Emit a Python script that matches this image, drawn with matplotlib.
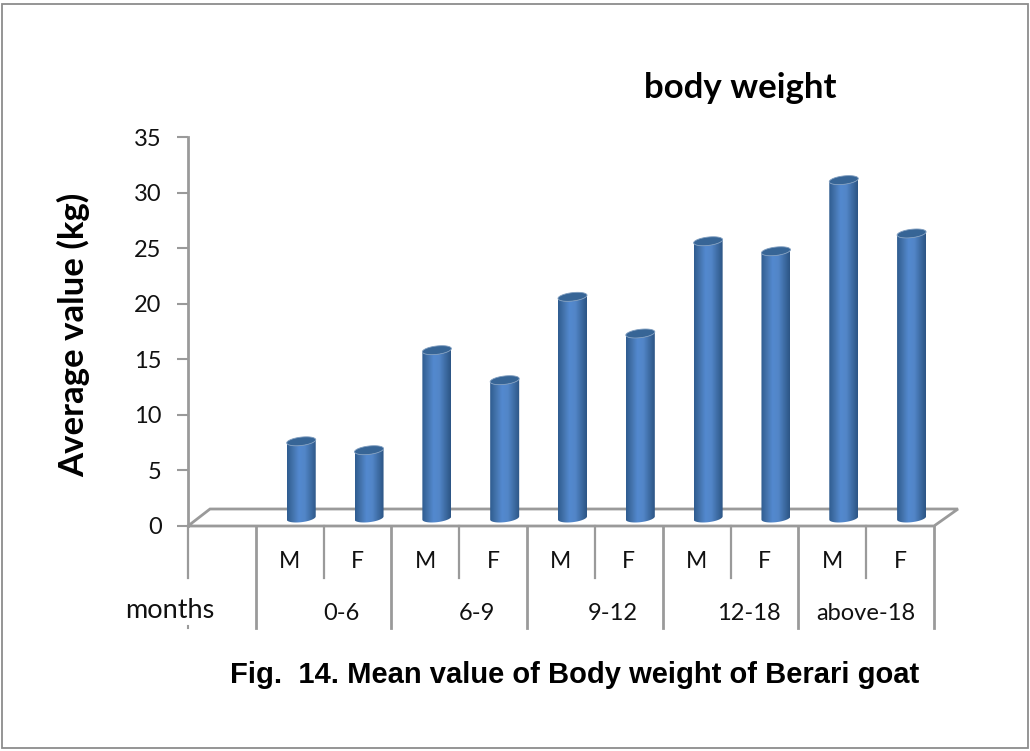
import matplotlib
matplotlib.use('Agg')
import matplotlib.pyplot as plt
from matplotlib.colors import LinearSegmentedColormap
from matplotlib.patches import Polygon, Rectangle
import numpy as np

# values
sexes = ['M', 'F', 'M', 'F', 'M', 'F', 'M', 'F', 'M', 'F']
weights = [6.9, 6.1, 15.1, 12.4, 19.9, 16.6, 24.9, 24.0, 30.4, 25.6]
groups = ['0-6', '6-9', '9-12', '12-18', 'above-18']
yticks = [0, 5, 10, 15, 20, 25, 30, 35]

W, H = 1030, 751
GREY = '#9a9a9a'
CALIBRI = ['Lato', 'Open Sans', 'DejaVu Sans']
ARIAL = ['Liberation Sans', 'DejaVu Sans']

fig = plt.figure(figsize=(W/100, H/100), dpi=100)
fig.patch.set_facecolor('white')
fig.add_artist(Rectangle((1.5/W, 3/H), (W-4)/W, (H-7)/H, transform=fig.transFigure,
                         fill=False, ec='#8c8c8c', lw=1.3))

ax = fig.add_axes([188/W, 1-526/H, (934-188)/W, (526-137)/H])
ax.set_xlim(0, 11)
ax.set_ylim(0, 35)
px = (934-188)/11.0   # pixels per category
py = (526-137)/35.0   # pixels per kg

for s in ['top', 'right', 'bottom']:
    ax.spines[s].set_visible(False)
ax.spines['left'].set_color(GREY)
ax.spines['left'].set_linewidth(2)
ax.set_xticks([])
ax.set_yticks(yticks)
ax.tick_params(axis='y', length=8, width=1.5, color=GREY, pad=11, labelsize=17)
for lab in ax.get_yticklabels():
    lab.set_fontfamily(CALIBRI)
    lab.set_color('#111111')

# floor of the 3D box
floor = Polygon([(0, 0), (22/px, 17/py), (770/px, 17/py), (11, 0)], closed=True,
                fill=False, ec=GREY, lw=2, zorder=1, clip_on=False)
ax.add_patch(floor)

# category separators under the axis
for i in range(12):
    long_line = i % 2 == 1
    y0 = -102/py if long_line else -52/py
    ax.plot([i, i], [0, y0], color=GREY, lw=2 if long_line else 1.6, clip_on=False, zorder=1)
ax.plot([0, 0], [-100/py, -102/py], color=GREY, lw=1.5, clip_on=False)


def ellipse_pts(xc, yc, t):
    # tilted ellipse, sizes in pixels, result in data units
    a, b, tilt = 14.5, 4.2, 0.11
    xp = a*np.cos(t)
    yp = b*np.sin(t) + tilt*a*np.cos(t)
    return np.column_stack((xc + xp/px, yc + yp/py))


cmap = LinearSegmentedColormap.from_list('cyl', ['#2f5c90', '#4474ad', '#5389cf', '#5286c8', '#3f6ea6', '#2c5585'])
grad = np.linspace(0, 1, 64).reshape(1, -1)
depth = 8.0/py   # bar foot sits in the middle of the floor depth

for i, v in enumerate(weights):
    xc = i + 1.5 + 11.5/px
    top = v + depth
    t_low = np.linspace(np.pi, 2*np.pi, 30)
    low = ellipse_pts(xc, depth, t_low)
    up = ellipse_pts(xc, top, t_low[::-1])
    body = Polygon(np.vstack((low, up)), closed=True, fc='none', ec='none', zorder=3, clip_on=False)
    ax.add_patch(body)
    im = ax.imshow(grad, extent=[xc-14.5/px, xc+14.5/px, 0, top+1], aspect='auto', cmap=cmap,
                   zorder=3, interpolation='bilinear')
    im.set_clip_path(body)
    cap = Polygon(ellipse_pts(xc, top, np.linspace(0, 2*np.pi, 60)), closed=True,
                  fc='#376596', ec='#7f9dbf', lw=0.6, zorder=4, clip_on=False)
    ax.add_patch(cap)

ax.set_xlim(0, 11)
ax.set_ylim(0, 35)

# category labels
for i, s in enumerate(sexes):
    ax.text(i + 1.5, -36/py, s, ha='center', va='center', fontsize=16.5,
            family=CALIBRI, color='#111111', clip_on=False)
for i, g in enumerate(groups):
    off = 0 if g == 'above-18' else 18/px
    ax.text(2*i + 2 + off, -87/py, g, ha='center', va='center', fontsize=17,
            family=CALIBRI, color='#111111', clip_on=False)
ax.text(-18/px, -84/py, 'months', ha='center', va='center', fontsize=19.5,
        family=CALIBRI, color='#111111', clip_on=False)

fig.text(74/W, 1-335/H, 'Average value (kg)', rotation=90, ha='center', va='center', fontsize=25,
         fontweight='bold', family=CALIBRI, color='black')
fig.text(740/W, 1-88/H, 'body weight', ha='center', va='center', fontsize=25,
         fontweight='bold', family=CALIBRI, color='black')
fig.text(575/W, 1-675/H, 'Fig.  14. Mean value of Body weight of Berari goat', ha='center', va='center',
         fontsize=21, fontweight='bold', family=ARIAL, color='black')

fig.savefig('out.png', dpi=100)
plt.close()
